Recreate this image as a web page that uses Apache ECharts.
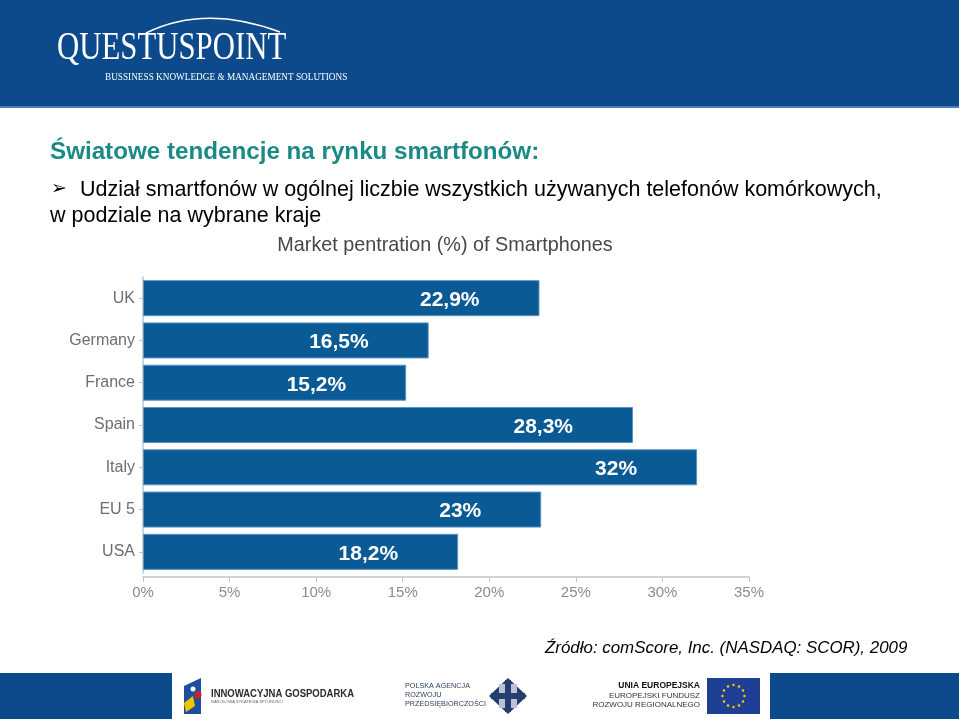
<!DOCTYPE html>
<html>
<head>
<meta charset="utf-8">
<script src="https://cdn.jsdelivr.net/npm/echarts@6/dist/echarts.min.js"></script>
<style>
html,body{margin:0;padding:0;background:#fff;}
#chart{width:959px;height:719px;}
</style>
</head>
<body>
<div id="chart"></div>
<script>
// ---- data ----
const categories = ['UK', 'Germany', 'France', 'Spain', 'Italy', 'EU 5', 'USA'];
const values = [22.9, 16.5, 15.2, 28.3, 32, 23, 18.2];
const valueLabels = ['22,9%', '16,5%', '15,2%', '28,3%', '32%', '23%', '18,2%'];
const xTicks = [0, 5, 10, 15, 20, 25, 30, 35];

const chart = echarts.init(document.getElementById('chart'), null, {renderer: 'canvas'});

const sans = 'Arial, "Liberation Sans", Helvetica, sans-serif';
const serif = '"Liberation Serif", "DejaVu Serif", serif';
const headerBlue = '#0c4a8b';

const graphics = [
  // header band
  {type: 'rect', shape: {x: 0, y: 0, width: 959, height: 107}, style: {fill: headerBlue}, silent: true},
  {type: 'rect', shape: {x: 0, y: 106, width: 959, height: 2}, style: {fill: '#4f7fb1'}, silent: true},
  // logo arc
  {type: 'bezierCurve', shape: {x1: 146, y1: 33, cpx1: 205, cpy1: 4, x2: 280, y2: 32},
   style: {stroke: '#ffffff', lineWidth: 1.6, fill: null}, silent: true},
  {type: 'text', x: 57, y: 68, scaleX: 0.77,
   style: {text: 'QUESTUSPOINT', fill: '#ffffff', font: '40px ' + serif, textVerticalAlign: 'bottom', textBaseline: 'bottom'}, silent: true},
  {type: 'text', x: 105, y: 77, scaleX: 0.88,
   style: {text: 'BUSSINESS KNOWLEDGE & MANAGEMENT SOLUTIONS', fill: '#ffffff', font: '10.5px ' + serif, textBaseline: 'middle', textVerticalAlign: 'middle'}, silent: true},

  // slide title
  {type: 'text', x: 50, y: 152,
   style: {text: 'Światowe tendencje na rynku smartfonów:', fill: '#1b8a86', font: 'bold 24.2px ' + sans, textBaseline: 'middle', textVerticalAlign: 'middle'}, silent: true},
  {type: 'text', x: 51, y: 189,
   style: {text: '➢', fill: '#000000', font: '19px "DejaVu Sans", sans-serif', textBaseline: 'middle', textVerticalAlign: 'middle'}, silent: true},
  {type: 'text', x: 80, y: 190,
   style: {text: 'Udział smartfonów w ogólnej liczbie wszystkich używanych telefonów komórkowych,', fill: '#000000', font: '21.5px ' + sans, textBaseline: 'middle', textVerticalAlign: 'middle'}, silent: true},
  {type: 'text', x: 50, y: 216,
   style: {text: 'w podziale na wybrane kraje', fill: '#000000', font: '21.5px ' + sans, textBaseline: 'middle', textVerticalAlign: 'middle'}, silent: true},

  // chart title
  {type: 'text', x: 445, y: 246,
   style: {text: 'Market pentration (%) of Smartphones', fill: '#474747', font: '19.8px ' + sans, textAlign: 'center', textBaseline: 'middle', textVerticalAlign: 'middle'}, silent: true},

  // source
  {type: 'text', x: 545, y: 648,
   style: {text: 'Źródło: comScore, Inc. (NASDAQ: SCOR), 2009', fill: '#000000', font: 'italic 16.9px ' + sans, textBaseline: 'middle', textVerticalAlign: 'middle'}, silent: true},

  // footer bands
  {type: 'rect', shape: {x: 0, y: 673, width: 172, height: 46}, style: {fill: headerBlue}, silent: true},
  {type: 'rect', shape: {x: 770, y: 673, width: 189, height: 46}, style: {fill: headerBlue}, silent: true},

  // footer logo 1
  {type: 'polygon', shape: {points: [[184, 686], [201, 678], [201, 714], [184, 714]]}, style: {fill: '#1e4f9c'}, silent: true},
  {type: 'polygon', shape: {points: [[184, 703], [193, 696], [195, 706], [186, 712]]}, style: {fill: '#f5c400'}, silent: true},
  {type: 'circle', shape: {cx: 198, cy: 695, r: 3.5}, style: {fill: '#d0202a'}, silent: true},
  {type: 'circle', shape: {cx: 193, cy: 689, r: 2.5}, style: {fill: '#ffffff'}, silent: true},
  {type: 'text', x: 211, y: 694, scaleX: 0.95,
   style: {text: 'INNOWACYJNA GOSPODARKA', fill: '#2a2a2a', font: 'bold 10px ' + sans, textBaseline: 'middle', textVerticalAlign: 'middle'}, silent: true},
  {type: 'text', x: 211, y: 702,
   style: {text: 'NARODOWA STRATEGIA SPÓJNOŚCI', fill: '#666', font: '4px ' + sans, textBaseline: 'middle', textVerticalAlign: 'middle'}, silent: true},

  // footer logo 2
  {type: 'text', x: 405, y: 686, scaleX: 0.95,
   style: {text: 'POLSKA AGENCJA', fill: '#2f3f5f', font: '7.6px ' + sans, textBaseline: 'middle', textVerticalAlign: 'middle'}, silent: true},
  {type: 'text', x: 405, y: 695, scaleX: 0.95,
   style: {text: 'ROZWOJU', fill: '#2f3f5f', font: '7.6px ' + sans, textBaseline: 'middle', textVerticalAlign: 'middle'}, silent: true},
  {type: 'text', x: 405, y: 704, scaleX: 0.95,
   style: {text: 'PRZEDSIĘBIORCZOŚCI', fill: '#2f3f5f', font: '7.6px ' + sans, textBaseline: 'middle', textVerticalAlign: 'middle'}, silent: true},
  {type: 'polygon', shape: {points: [[508, 678], [527, 696], [508, 714], [489, 696]]}, style: {fill: '#253e6e'}, silent: true},
  {type: 'rect', shape: {x: 499, y: 684, width: 18, height: 24}, style: {fill: '#b8c3d6'}, silent: true},
  {type: 'rect', shape: {x: 505, y: 680, width: 6, height: 32}, style: {fill: '#253e6e'}, silent: true},
  {type: 'rect', shape: {x: 491, y: 693, width: 34, height: 6}, style: {fill: '#253e6e'}, silent: true},

  // footer logo 3
  {type: 'text', x: 700, y: 686,
   style: {text: 'UNIA EUROPEJSKA', fill: '#111', font: 'bold 8.5px ' + sans, textAlign: 'right', textBaseline: 'middle', textVerticalAlign: 'middle'}, silent: true},
  {type: 'text', x: 700, y: 696,
   style: {text: 'EUROPEJSKI FUNDUSZ', fill: '#333', font: '8px ' + sans, textAlign: 'right', textBaseline: 'middle', textVerticalAlign: 'middle'}, silent: true},
  {type: 'text', x: 700, y: 705,
   style: {text: 'ROZWOJU REGIONALNEGO', fill: '#333', font: '8px ' + sans, textAlign: 'right', textBaseline: 'middle', textVerticalAlign: 'middle'}, silent: true}
];

// EU flag
graphics.push({type: 'rect', shape: {x: 707, y: 678, width: 53, height: 36}, style: {fill: '#1f3f95'}, silent: true});
for (let i = 0; i < 12; i++) {
  const a = i * Math.PI / 6;
  graphics.push({type: 'circle', shape: {cx: 733.5 + 11 * Math.cos(a), cy: 696 + 11 * Math.sin(a), r: 1.2},
    style: {fill: '#f3d200'}, silent: true});
}

const option = {
  animation: false,
  backgroundColor: '#ffffff',
  graphic: graphics,
  grid: {left: 143, right: 210, top: 277, height: 296, containLabel: false},
  xAxis: {
    type: 'value', min: 0, max: 35, interval: 5, offset: 4,
    axisLine: {show: true, lineStyle: {color: '#c4c4c4', width: 1.5}},
    axisTick: {show: true, inside: false, length: 5, lineStyle: {color: '#c4c4c4'}},
    axisLabel: {
      color: '#8c8c8c', fontSize: 15, fontFamily: sans, margin: 8,
      formatter: v => (xTicks.indexOf(v) >= 0 ? v + '%' : '')
    },
    splitLine: {show: false}
  },
  yAxis: {
    type: 'category', data: categories, inverse: true,
    axisLine: {show: true, lineStyle: {color: '#c4c4c4', width: 1.5}},
    axisTick: {show: true, length: 4, alignWithLabel: true, lineStyle: {color: '#c4c4c4'}},
    axisLabel: {color: '#6e6e6e', fontSize: 16, fontFamily: sans, margin: 8}
  },
  series: [{
    type: 'bar',
    data: values,
    barWidth: 36,
    itemStyle: {color: '#0a5a95', borderColor: '#5c93c2', borderWidth: 1},
    label: {
      show: true, position: 'insideRight', distance: 60, offset: [0, 2],
      color: '#ffffff', fontSize: 21, fontWeight: 'bold', fontFamily: sans,
      formatter: p => valueLabels[p.dataIndex]
    }
  }]
};

chart.setOption(option);
</script>
</body>
</html>
